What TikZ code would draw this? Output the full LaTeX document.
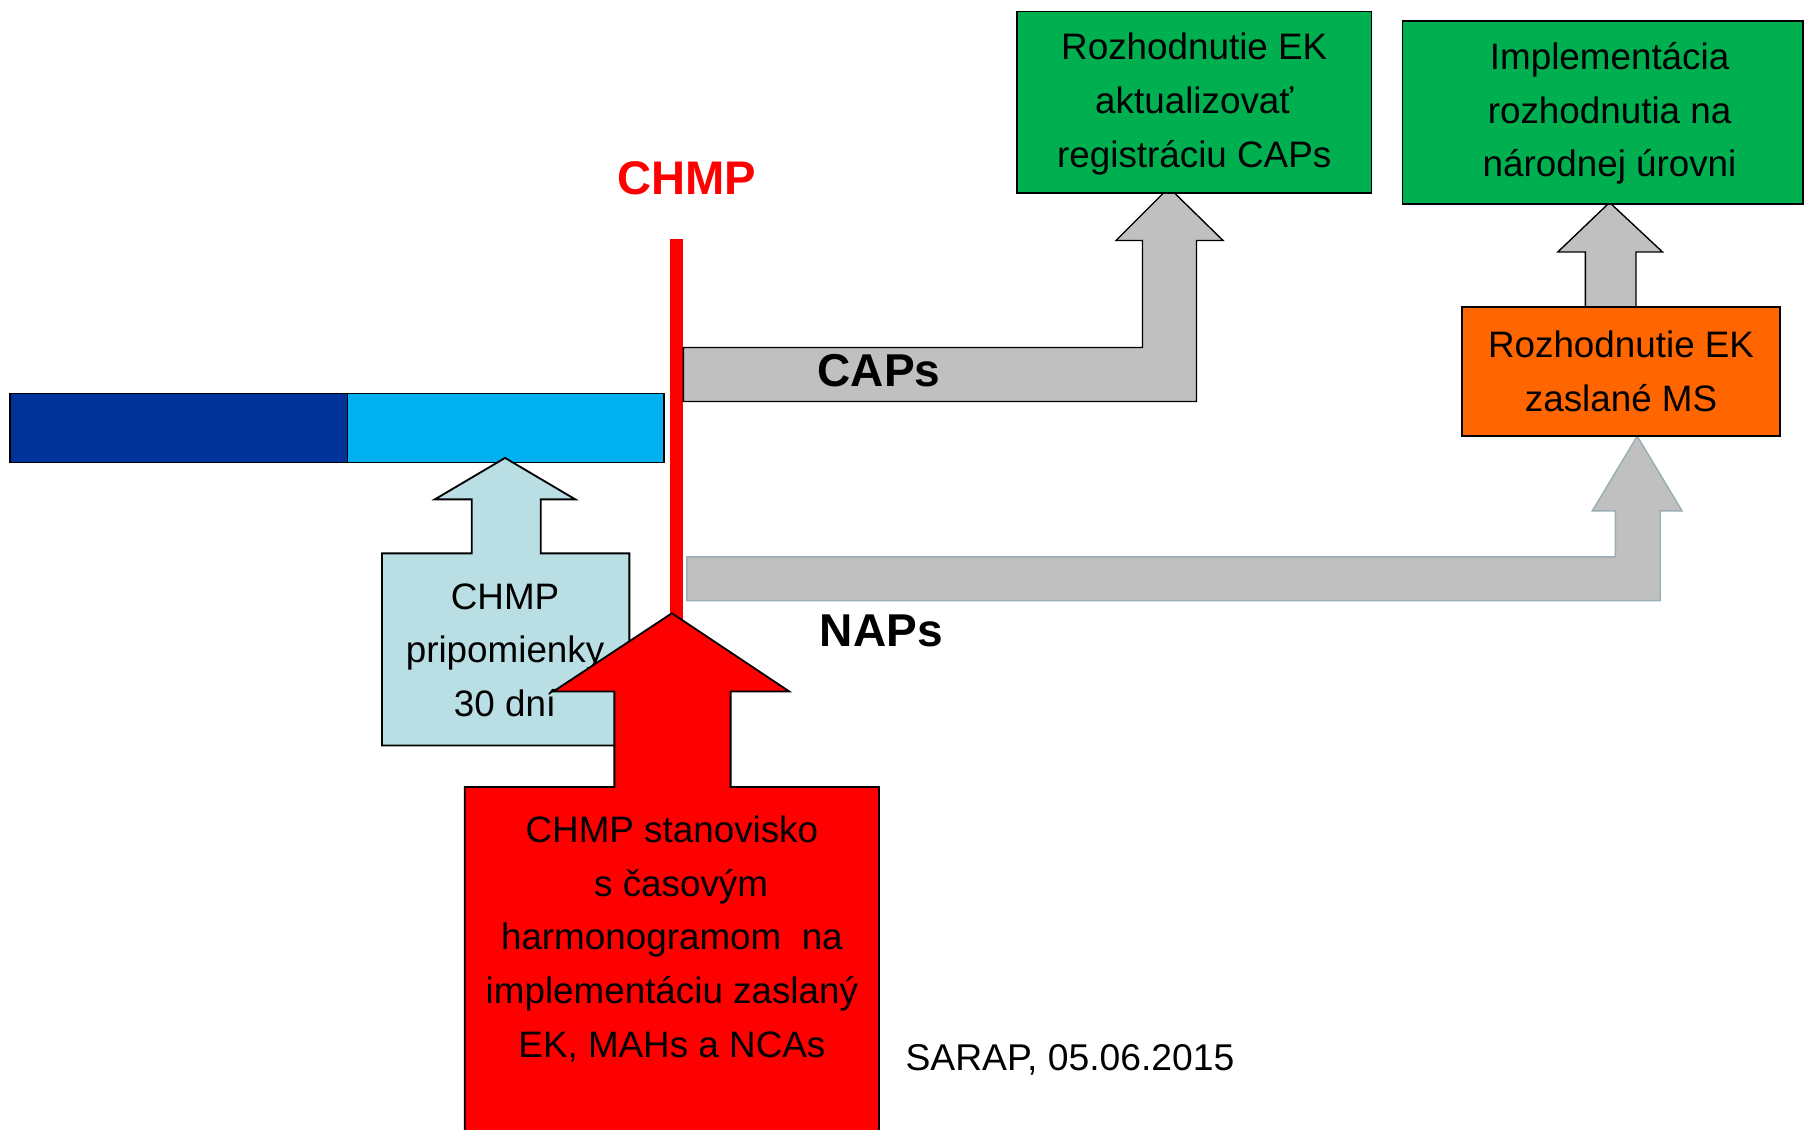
\documentclass[tikz,border=0pt]{standalone}
\usepackage{fontspec}
\setmainfont{Liberation Sans}
\definecolor{dblue}{HTML}{003399}
\definecolor{lblue}{HTML}{00B0F0}
\definecolor{teal}{HTML}{B9DFE4}
\definecolor{gbox}{HTML}{00B050}
\definecolor{obox}{HTML}{FF6600}
\definecolor{grayarr}{HTML}{C0C0C0}
\definecolor{napline}{HTML}{98AEB4}
\begin{document}
\begin{tikzpicture}[x=0.5pt,y=-0.5pt,
  txt/.style={font=\fontsize{16}{23.3}\selectfont, align=center, inner sep=0pt},
  boxst/.style={draw=black, line width=0.8pt, inner sep=0pt, txt},
  blockarrow/.style={draw=black, line width=0.6pt, fill=grayarr},
  biglabel/.style={font=\fontsize{20}{24}\selectfont\bfseries, inner sep=0pt}]
\useasboundingbox (0,0) rectangle (1568,982);
\begin{scope}
\clip (0,0) rectangle (1568,982);

% timeline bar
\draw[line width=0.8pt, fill=dblue] (9,342) rectangle (302,402);
\draw[line width=0.8pt, fill=lblue] (302,342) rectangle (577,402);

% red CHMP line
\draw[red, line width=6pt] (588,208) -- (588,540);
\node[biglabel, text=red, font=\fontsize{20.5}{24}\selectfont\bfseries] (chmp) at (597,155) {CHMP};

% CAPs arrow
\draw[blockarrow] (594,302) -- (993,302) -- (993,209) -- (970,209) -- (1016,163) -- (1063,209) -- (1040,209) -- (1040,349) -- (594,349) -- cycle;
\node[biglabel] (caps) at (764,322) {CAPs};

% NAPs arrow
\draw[draw=napline, line width=0.6pt, fill=grayarr] (597,484) -- (1404,484) -- (1404,444) -- (1384,444) -- (1423,379) -- (1462,444) -- (1443,444) -- (1443,522) -- (597,522) -- cycle;
\node[biglabel] (naps) at (766,548) {NAPs};

% small gray arrow orange -> green2
\draw[blockarrow] (1399,176) -- (1445,219) -- (1422,219) -- (1422,267) -- (1378,267) -- (1378,219) -- (1354,219) -- cycle;

% boxes
\node[boxst, fill=gbox, minimum width=154pt, minimum height=79pt] (ek) at (1038,89)
  {\rule{0pt}{13pt}Rozhodnutie EK\\aktualizovať\\registráciu CAPs};
\node[boxst, fill=gbox, minimum width=174pt, minimum height=79.5pt] (impl) at (1393,97.5)
  {\rule{0pt}{13pt}\hspace*{6pt}Implementácia\\\hspace*{6pt}rozhodnutia na\\\hspace*{6pt}národnej úrovni};
\node[boxst, fill=obox, minimum width=138pt, minimum height=56pt] (ms) at (1409,323)
  {Rozhodnutie EK\\zaslané MS};

% CHMP pripomienky arrow
\draw[line width=0.8pt, fill=teal] (439,398) -- (500,434) -- (470,434) -- (470,481) -- (547,481) -- (547,648) -- (332,648) -- (332,481) -- (410,481) -- (410,434) -- (378,434) -- cycle;
\node[txt] (prip) at (439,565) {CHMP\\pripomienky\\30 dní};

% big red arrow
\draw[line width=0.8pt, fill=red] (584,533) -- (686,601) -- (635,601) -- (635,684) -- (764,684) -- (764,995) -- (404,995) -- (404,684) -- (534,684) -- (534,601) -- (481,601) -- cycle;
\node[txt] (stan) at (584,816) {CHMP stanovisko\\\hspace*{8pt}s časovým\\harmonogramom\ \ na\\implementáciu zaslaný\\EK, MAHs a NCAs};

% footer
\node[font=\fontsize{16.2}{19}\selectfont, inner sep=0pt] (sarap) at (930,921) {SARAP, 05.06.2015};
\end{scope}
\end{tikzpicture}
\end{document}
